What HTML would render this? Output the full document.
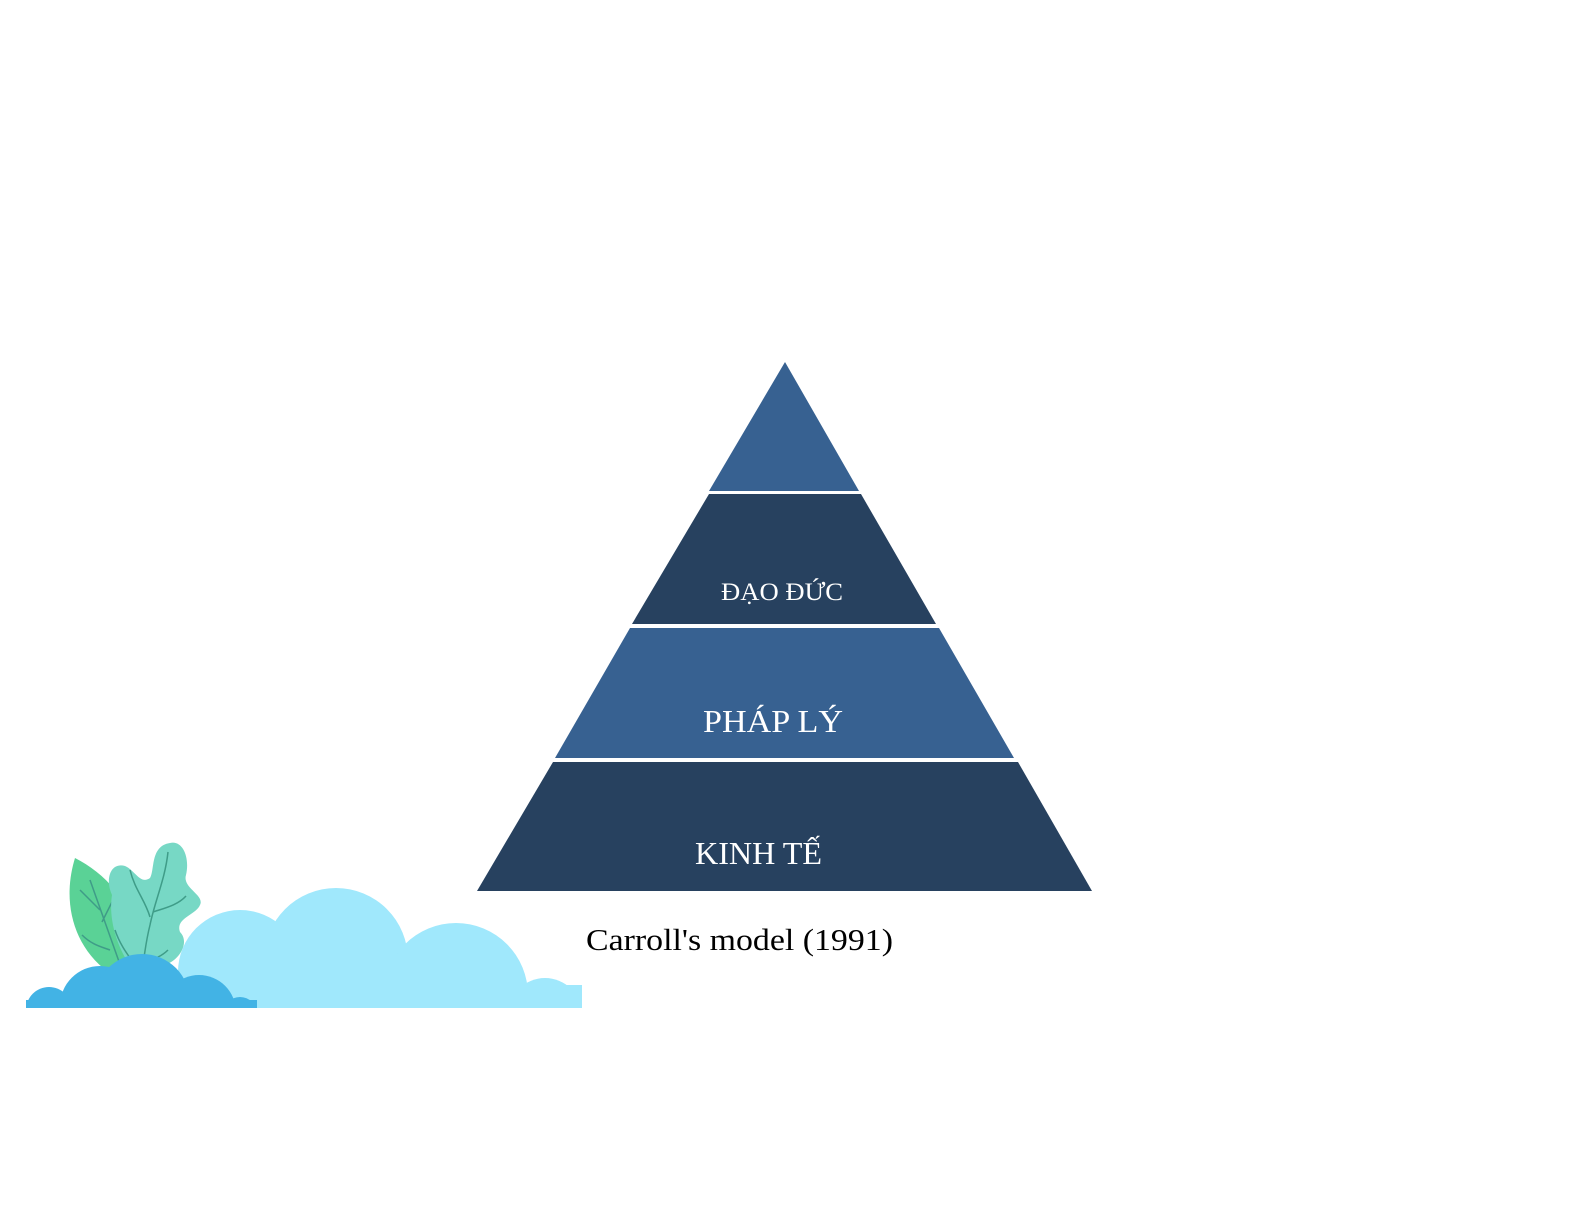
<!DOCTYPE html>
<html><head><meta charset="utf-8"><style>
html,body{margin:0;padding:0;background:#fff;}
svg{display:block}
</style></head><body>
<svg width="1585" height="1225" viewBox="0 0 1585 1225" xmlns="http://www.w3.org/2000/svg">
<defs><clipPath id="c"><rect x="0" y="0" width="1585" height="1008"/></clipPath></defs>
<g clip-path="url(#c)">
  <path d="M75,858 C115,878 150,925 135,972 L108,972 C72,945 62,900 75,858 Z" fill="#5ad296"/>
  <path d="M90,880 L122,970 M80,890 L100,910 M112,902 L102,922 M82,935 C92,945 102,947 110,950" stroke="#3f9c88" stroke-width="1.5" fill="none"/>
  <path d="M170,843 C183,840 190,858 186,875 C182,888 205,895 200,905 C196,915 175,918 180,932 C190,942 180,960 165,965 L132,968 C118,950 108,920 112,895 C105,880 110,862 125,866 C135,870 140,885 150,878 C155,870 150,846 170,843 Z" fill="#77d8c5"/>
  <path d="M168,852 C165,880 155,900 150,925 C145,945 145,955 142,968 M130,870 C135,890 145,900 150,917 M186,896 C178,905 165,908 153,912 M115,930 C120,945 128,955 135,965 M168,950 C160,958 150,960 143,963" stroke="#3f9c88" stroke-width="1.5" fill="none"/>
  <g fill="#a0e8fc">
    <circle cx="240" cy="972" r="62"/>
    <circle cx="336" cy="960" r="72"/>
    <circle cx="456" cy="995" r="72"/>
    <circle cx="545" cy="1015" r="37"/>
    <rect x="170" y="985" width="412" height="30"/>
  </g>
  <g fill="#42b3e5">
    <circle cx="49" cy="1010" r="23"/>
    <circle cx="100" cy="1006" r="40"/>
    <circle cx="142" cy="1002" r="48"/>
    <circle cx="199" cy="1012" r="37"/>
    <circle cx="240" cy="1014" r="17"/>
    <rect x="26" y="1000" width="231" height="10"/>
  </g>
</g>
<polygon points="785,362 859,491 709,491" fill="#376191"/>
<polygon points="709,494 861,494 936,624 632,624" fill="#27415f"/>
<polygon points="630,628 939,628 1014,758 555,758" fill="#376191"/>
<polygon points="553,762 1018,762 1092,891 477,891" fill="#27415f"/>
<g font-family="'Liberation Serif',serif" fill="#fff">
  <text x="721" y="600" font-size="25" textLength="122" lengthAdjust="spacingAndGlyphs">ĐẠO ĐỨC</text>
  <text x="703" y="732" font-size="32" textLength="140" lengthAdjust="spacingAndGlyphs">PHÁP LÝ</text>
  <text x="695" y="864" font-size="32" textLength="127" lengthAdjust="spacingAndGlyphs">KINH TẾ</text>
</g>
<text x="586" y="950" font-family="'Liberation Serif',serif" font-size="31" textLength="307" lengthAdjust="spacingAndGlyphs" fill="#000">Carroll's model (1991)</text>
</svg>
</body></html>
